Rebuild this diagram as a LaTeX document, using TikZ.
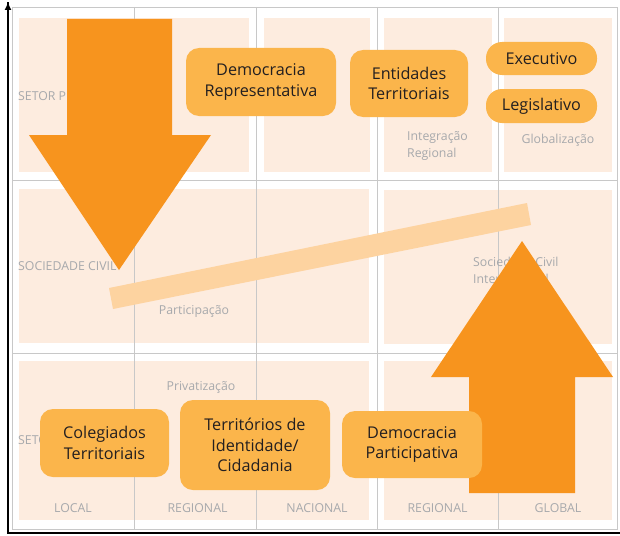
\documentclass[tikz,border=0pt]{standalone}
\usepackage{fontspec}
\setmainfont{Open Sans}
\usetikzlibrary{arrows.meta}
\definecolor{peach}{HTML}{FDECDF}
\definecolor{gridgrey}{HTML}{C8C8C8}
\definecolor{labgrey}{HTML}{A7A9AC}
\definecolor{arroworange}{HTML}{F7941E}
\definecolor{boxorange}{HTML}{FBB54B}
\definecolor{bandcol}{HTML}{FDD3A0}
\definecolor{txt}{HTML}{231F20}
\tikzset{
  cell/.style={fill=peach, draw=none},
  gridline/.style={draw=gridgrey, line width=0.8pt},
  lab/.style={text=labgrey, font=\fontsize{12.3}{17}\selectfont, inner sep=0pt},
  box/.style={fill=boxorange, rounded corners=13pt, text=txt, align=center,
    font=\fontsize{16.2}{20.5}\selectfont, inner sep=0pt},
  pill/.style={box, rounded corners=16pt},
  bigarrow/.style={fill=arroworange, draw=none},
  axis/.style={draw=black, line width=2pt}
}
\begin{document}
\begin{tikzpicture}[x=1pt,y=-1pt]
\useasboundingbox (0,0) rectangle (620,535);
\fill[white] (0,0) rectangle (620,535);
% cells
\fill[cell] (19,18) rectangle (249,172);
\fill[cell] (264,18) rectangle (370,172);
\fill[cell] (384,18) rectangle (492,172);
\fill[cell] (504,18) rectangle (612,172);
\fill[cell] (19,189) rectangle (369,343);
\fill[cell] (384,190) rectangle (612,344);
\fill[cell] (19,361) rectangle (369,520);
\fill[cell] (384,361) rectangle (612,520);
% grid
\draw[gridline] (12,7) rectangle (617,529);
\foreach \gx in {134.5,256,377,498}{\draw[gridline] (\gx,7) -- (\gx,529);}
\foreach \gy in {180.5,353}{\draw[gridline] (12,\gy) -- (617,\gy);}
% axes
\coordinate (orig) at (8,533);
\coordinate (xend) at (620,533);
\coordinate (yend) at (8,2);
\draw[axis] (xend) -- (orig) -- (yend);
\draw[axis, -{Latex[length=8pt,width=7pt]}] (orig) -- (yend);
% labels
\node[lab, anchor=west] (spub) at (18,95) {SETOR PÚBLICO};
\node[lab, anchor=west] (sciv) at (18,266) {SOCIEDADE CIVIL};
\node[lab, anchor=west] (spriv) at (18,440) {SETOR PRIVADO};
\node[lab] (part) at (194,311) {Participação};
\node[lab] (priv) at (201,387) {Privatização};
\node[lab, align=left, anchor=north west] (integ) at (407,131) {Integração\\Regional};
\node[lab] (glob) at (558,140) {Globalização};
\node[lab, align=left, anchor=north west] (scint) at (473,257) {Sociedade Civil\\Internacional};
\node[lab] (l1) at (73,508) {LOCAL};
\node[lab] (l2) at (197.5,508) {REGIONAL};
\node[lab] (l3) at (317,508) {NACIONAL};
\node[lab] (l4) at (437.5,508) {REGIONAL};
\node[lab] (l5) at (558,508) {GLOBAL};
% band
\fill[bandcol] (109,288) -- (527,203) -- (531,225) -- (113,309) -- cycle;
% big arrows
\fill[bigarrow] (67,19) -- (172,19) -- (172,135) -- (211,135) -- (119,270) -- (29,135) -- (67,135) -- cycle;
\fill[bigarrow] (522,241) -- (613,377) -- (575,377) -- (575,493) -- (469,493) -- (469,377) -- (431,377) -- cycle;
% boxes
\node[box, minimum width=150pt, minimum height=68pt] (demrep) at (261,82) {Democracia\\Representativa};
\node[box, minimum width=118pt, minimum height=67pt] (ent) at (409,83.5) {Entidades\\Territoriais};
\node[pill, minimum width=111pt, minimum height=33pt] (exec) at (541.5,58.5) {Executivo};
\node[pill, minimum width=111pt, minimum height=34pt] (leg) at (541.5,106) {Legislativo};
\node[box, minimum width=129pt, minimum height=68pt] (coleg) at (104.5,443) {Colegiados\\Territoriais};
\node[box, minimum width=150pt, minimum height=90pt] (terr) at (255,445) {Territórios de\\Identidade/\\Cidadania};
\node[box, minimum width=140pt, minimum height=67pt] (dempart) at (412,444.5) {Democracia\\Participativa};
\end{tikzpicture}
\end{document}
